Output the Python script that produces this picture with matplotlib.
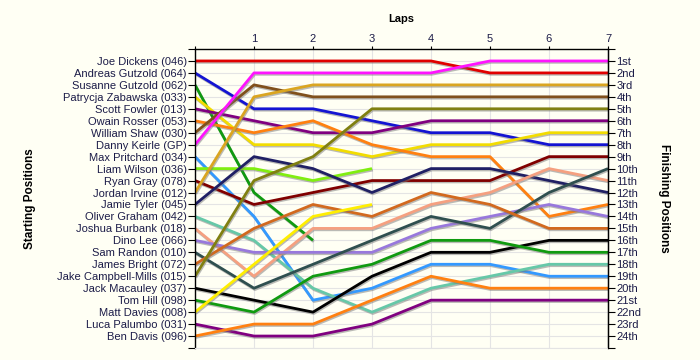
import numpy as np
import matplotlib
matplotlib.use("Agg")
import matplotlib.pyplot as plt
import matplotlib.patheffects as pe

plt.rcParams['font.family'] = ['Liberation Sans', 'DejaVu Sans']

laps = [0, 1, 2, 3, 4, 5, 6, 7]
drivers = [
    "Joe Dickens (046)", "Andreas Gutzold (064)", "Susanne Gutzold (062)",
    "Patrycja Zabawska (033)", "Scott Fowler (013)", "Owain Rosser (053)",
    "William Shaw (030)", "Danny Keirle (GP)", "Max Pritchard (034)",
    "Liam Wilson (036)", "Ryan Gray (078)", "Jordan Irvine (012)",
    "Jamie Tyler (045)", "Oliver Graham (042)", "Joshua Burbank (018)",
    "Dino Lee (066)", "Sam Randon (010)", "James Bright (072)",
    "Jake Campbell-Mills (015)", "Jack Macauley (037)", "Tom Hill (098)",
    "Matt Davies (008)", "Luca Palumbo (031)", "Ben Davis (096)",
]
finish_labels = ["1st", "2nd", "3rd", "4th", "5th", "6th", "7th", "8th", "9th",
                 "10th", "11th", "12th", "13th", "14th", "15th", "16th", "17th",
                 "18th", "19th", "20th", "21st", "22nd", "23rd", "24th"]

nan = np.nan
# position of each driver after each lap (nan = retired)
positions = [
    [1, 1, 1, 1, 1, 2, 2, 2],
    [2, 5, 5, 6, 7, 7, 8, 8],
    [3, 12, 16, nan, nan, nan, nan, nan],
    [4, 8, 8, 9, 8, 8, 7, 7],
    [5, 6, 7, 7, 6, 6, 6, 6],
    [6, 7, 6, 8, 9, 9, 14, 13],
    [7, 3, 4, 4, 4, 4, 4, 4],
    [8, 2, 2, 2, 2, 1, 1, 1],
    [9, 14, 21, 20, 18, 18, 19, 19],
    [10, 10, 11, 10, nan, nan, nan, nan],
    [11, 13, 12, 11, 11, 11, 9, 9],
    [12, 4, 3, 3, 3, 3, 3, 3],
    [13, 9, 10, 12, 10, 10, 11, 12],
    [14, 16, 20, 22, 20, 19, 18, 18],
    [15, 19, 15, 15, 13, 12, 10, 11],
    [16, 17, 17, 17, 15, 14, 13, 14],
    [17, 20, 18, 16, 14, 15, 12, 10],
    [18, 15, 13, 14, 12, 13, 15, 15],
    [19, 11, 9, 5, 5, 5, 5, 5],
    [20, 21, 22, 19, 17, 17, 16, 16],
    [21, 22, 19, 18, 16, 16, 17, 17],
    [22, 18, 14, 13, nan, nan, nan, nan],
    [23, 24, 24, 23, 21, 21, 21, 21],
    [24, 23, 23, 21, 19, 20, 20, 20],
]
colors = [
    "#e00000", "#1414d2", "#109a10", "#f2dc00", "#800080", "#ff8010",
    "#80501c", "#ff14ff", "#3399ff", "#80ee10", "#800000", "#daa520",
    "#202064", "#66c8a8", "#f5a080", "#9878dc", "#2f4f4f", "#d2691e",
    "#808010", "#000000", "#109a10", "#ffee00", "#800080", "#ff8010",
]

bg = "#fffff4"
text_col = "#1c1c48"

fig = plt.figure(figsize=(7, 3.6), dpi=100, facecolor=bg)
ax = fig.add_axes([195 / 700, 1 - 348 / 360, 413 / 700, 299 / 360])
ax.set_facecolor(bg)

for pos, col in zip(positions, colors):
    ax.plot(laps, pos, color=col, lw=2.0, solid_capstyle='butt',
            path_effects=[pe.SimpleLineShadow(offset=(0.6, -1.0), shadow_color='#777777', alpha=0.5),
                          pe.Normal()])

ax.set_xlim(0, 7)
ax.set_ylim(25, 0)

# grid
for y in range(1, 26):
    ax.axhline(y, color='#e4e4e4', lw=0.8, zorder=0)
for x in laps[1:]:
    ax.axvline(x, color='#e4e4e4', lw=0.8, zorder=0)

# top axis: laps
ax.xaxis.tick_top()
ax.set_xticks(laps)
ax.set_xticklabels([""] + [str(l) for l in laps[1:]], color=text_col, fontsize=8)
ax.tick_params(axis='x', length=2.5, pad=1, color='black')
ax.set_xlabel("Laps", fontweight='bold', fontsize=8, labelpad=9)
ax.xaxis.set_label_position('top')

# left axis: starting positions
ax.set_yticks(range(0, 26))
ax.set_yticklabels([""] + drivers + [""], color=text_col, fontsize=8)
ax.tick_params(axis='y', length=5, pad=1, color='black')
ax.set_ylabel("Starting Positions", fontweight='bold', fontsize=8.5, labelpad=0)
ax.yaxis.set_label_coords(-0.385, 0.5)

ax.spines['bottom'].set_color('#e4e4e4')
for s in ['left', 'top', 'right']:
    ax.spines[s].set_linewidth(1.0)

# right axis: finishing positions
ax2 = ax.twinx()
ax2.set_ylim(25, 0)
ax2.set_yticks(range(0, 26))
ax2.set_yticklabels([""] + finish_labels + [""], color=text_col, fontsize=8)
ax2.tick_params(axis='y', length=5, pad=1, color='black')
ax2.set_ylabel("Finishing Positions", fontweight='bold', fontsize=8.5, rotation=-90, labelpad=0)
ax2.yaxis.set_label_coords(1.15, 0.5)
for s in ['left', 'top', 'bottom']:
    ax2.spines[s].set_visible(False)

fig.savefig("out.png", dpi=100, facecolor=bg)
